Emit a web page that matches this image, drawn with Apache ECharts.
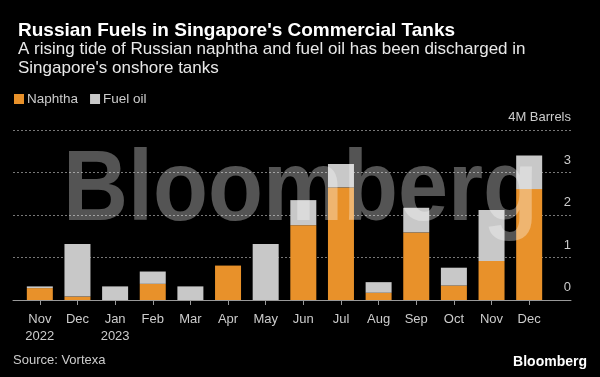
<!DOCTYPE html>
<html>
<head>
<meta charset="utf-8">
<script src="https://cdn.jsdelivr.net/npm/echarts@6/dist/echarts.min.js"></script>
<style>
  html, body { margin: 0; padding: 0; background: #000; }
  #chart { width: 600px; height: 377px; }
</style>
</head>
<body>
<div id="chart"></div>
<script>
// data (million barrels)
var months = ['Nov\n2022', 'Dec', 'Jan\n2023', 'Feb', 'Mar', 'Apr', 'May', 'Jun', 'Jul', 'Aug', 'Sep', 'Oct', 'Nov', 'Dec'];
var naphtha = [0.28, 0.08, 0, 0.38, 0, 0.81, 0, 1.76, 2.65, 0.17, 1.59, 0.34, 0.92, 2.61];
var fuelOil = [0.04, 1.24, 0.32, 0.29, 0.32, 0, 1.32, 0.59, 0.55, 0.25, 0.58, 0.42, 1.20, 0.79];
var yTicks = [0, 1, 2, 3, 4];

var font = '"Liberation Sans", Arial, sans-serif';
var chart = echarts.init(document.getElementById('chart'));

var option = {
    backgroundColor: '#000',
    animation: false,
    title: [{
        text: "Russian Fuels in Singapore's Commercial Tanks",
        left: 13, top: 16,
        textStyle: { color: '#fff', fontFamily: font, fontWeight: 'bold', fontSize: 19 }
    }, {
        text: "A rising tide of Russian naphtha and fuel oil has been discharged in\nSingapore's onshore tanks",
        left: 13, top: 35,
        textStyle: { color: '#e8e8e8', fontFamily: font, fontWeight: 'normal', fontSize: 17, lineHeight: 19 }
    }],
    legend: {
        left: 9, top: 87,
        icon: 'rect', itemWidth: 10, itemHeight: 10, itemGap: 12,
        textStyle: { color: '#ccc', fontFamily: font, fontSize: 13.5, padding: [0, 0, 0, -2] },
        data: ['Naphtha', 'Fuel oil']
    },
    grid: [
        // bars
        { left: 21, right: 52, top: 130, bottom: 77 },
        // full width frame: gridlines, baseline, right labels
        { left: 13, right: 29, top: 130, bottom: 77 }
    ],
    xAxis: [{
        type: 'category', gridIndex: 0, data: months,
        axisLine: { show: false },
        axisTick: { show: true, alignWithLabel: true, length: 5, lineStyle: { color: '#999' } },
        axisLabel: { color: '#ccc', fontFamily: font, fontSize: 13, lineHeight: 17, margin: 11 }
    }, {
        type: 'value', gridIndex: 1, min: 0, max: 1,
        axisLine: { show: true, lineStyle: { color: '#999', width: 1 } },
        axisTick: { show: false }, axisLabel: { show: false }, splitLine: { show: false }
    }],
    yAxis: [{
        type: 'value', gridIndex: 0, min: 0, max: 4, interval: 1, show: false
    }, {
        type: 'value', gridIndex: 1, min: yTicks[0], max: yTicks[yTicks.length - 1], interval: 1,
        position: 'right',
        axisLine: { show: false }, axisTick: { show: false },
        splitLine: { show: true, lineStyle: { color: '#777', type: [2, 2], width: 1 } },
        axisLabel: {
            inside: true, margin: 0, color: '#ccc', fontFamily: font, fontSize: 13,
            verticalAlign: 'bottom', padding: [0, 0, 6, 0],
            formatter: function (v) { return v === 4 ? '4M Barrels' : String(v); }
        }
    }],
    series: [{
        name: 'Naphtha', type: 'bar', stack: 'total', xAxisIndex: 0, yAxisIndex: 0,
        barWidth: 26, itemStyle: { color: '#e8912a' }, data: naphtha
    }, {
        name: 'Fuel oil', type: 'bar', stack: 'total', xAxisIndex: 0, yAxisIndex: 0,
        barWidth: 26, itemStyle: { color: '#c8c8c8' }, data: fuelOil
    }],
    graphic: [{
        // watermark over the plot
        type: 'text', z: 100, silent: true,
        left: 63, top: 142, scaleX: 0.9,
        style: { text: 'Bloomberg', font: 'bold 100px "Liberation Sans", Arial, sans-serif', fill: 'rgba(255,255,255,0.33)' }
    }, {
        type: 'text', left: 13, top: 354,
        style: { text: 'Source: Vortexa', font: '13px "Liberation Sans", Arial, sans-serif', fill: '#ccc' }
    }, {
        type: 'text', right: 13, top: 355,
        style: { text: 'Bloomberg', font: 'bold 14px "Liberation Sans", Arial, sans-serif', fill: '#fff' }
    }]
};

chart.setOption(option);
</script>
</body>
</html>
